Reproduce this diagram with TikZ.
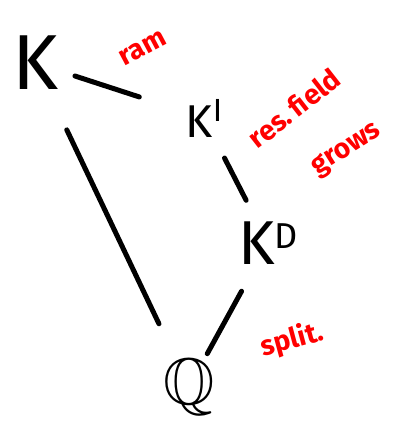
\documentclass[tikz,border=0pt]{standalone}
\usepackage{amssymb}
\usepackage{fontspec}
\setmainfont{Fira Sans}
\begin{document}
\begin{tikzpicture}[x=1pt,y=1pt,
  edge/.style={line width=5pt, line cap=round},
  fieldlbl/.style={inner sep=0pt, text=black},
  redlbl/.style={inner sep=0pt, text=red, font=\fontsize{28}{28}\selectfont\bfseries}]
\useasboundingbox (0,0) rectangle (405,-430);
\node[fieldlbl, font=\fontsize{78}{78}\selectfont] (K) at (35,-63) {K};
\node[fieldlbl, font=\fontsize{46}{46}\selectfont] (KI) at (204,-118) {K\raisebox{16pt}{\fontsize{32}{32}\selectfont I}};
\node[fieldlbl, font=\fontsize{62}{62}\selectfont] (KD) at (268,-243) {K\raisebox{16pt}{\fontsize{36}{36}\selectfont D}};
\node[fieldlbl, font=\fontsize{66}{66}\selectfont\boldmath] (Q) at (189,-387) {$\mathbb{Q}$};
\draw[edge, shorten <=42pt, shorten >=68pt] (K.center) -- (KI.center);
\draw[edge, shorten <=45pt, shorten >=48pt] (KI.center) -- (KD.center);
\draw[edge, shorten <=55pt, shorten >=38pt] (KD.center) -- (Q.center);
\draw[edge, shorten <=74pt, shorten >=70pt] (K.center) -- (Q.center);
\node[redlbl, rotate=28] (ram) at (143,-48) {ram};
\node[redlbl, rotate=38] (res) at (294,-108) {res.\,field};
\node[redlbl, rotate=32] (grows) at (347,-150) {grows};
\node[redlbl, rotate=15] (split) at (292,-340) {split.};
\end{tikzpicture}
\end{document}
